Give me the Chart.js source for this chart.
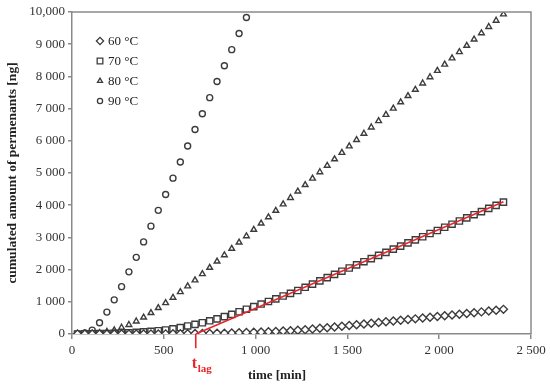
<!DOCTYPE html>
<html>
<head>
<meta charset="utf-8">
<script src="https://cdn.jsdelivr.net/npm/chart.js@4.4.1/dist/chart.umd.min.js"></script>
<style>
  html, body { margin: 0; padding: 0; background: #fff; }
  #wrap { width: 550px; height: 391px; }
</style>
</head>
<body>
<div id="wrap"><canvas id="chart" width="550" height="391"></canvas></div>
<script>
// ===== DATA =====
// sampling times [min], every 40 min
const times = [30, 70, 110, 150, 190, 230, 270, 310, 350, 390, 430, 470, 510, 550, 590, 630, 670, 710, 750, 790,
  830, 870, 910, 950, 990, 1030, 1070, 1110, 1150, 1190, 1230, 1270, 1310, 1350, 1390, 1430, 1470, 1510, 1550, 1590,
  1630, 1670, 1710, 1750, 1790, 1830, 1870, 1910, 1950, 1990, 2030, 2070, 2110, 2150, 2190, 2230, 2270, 2310, 2350];

const series60 = [0, 0, 0, 0, 0, 0, 0, 0, 0, 0, 2, 3, 4, 5, 7, 9, 12, 15, 18, 22,
  27, 32, 38, 44, 51, 59, 68, 78, 90, 103, 117, 135, 155, 176, 197, 219, 241, 263, 286, 309,
  332, 355, 378, 401, 424, 447, 470, 494, 517, 541, 564, 588, 611, 635, 662, 687, 712, 738, 765];

const series70 = [0, 3, 6, 10, 15, 22, 30, 40, 52, 66, 82, 100, 125, 160, 200, 250, 300, 350, 410, 470,
  540, 610, 690, 770, 850, 930, 1010, 1090, 1180, 1260, 1350, 1450, 1550, 1650, 1750, 1850, 1950, 2050, 2145, 2245,
  2340, 2440, 2535, 2635, 2730, 2830, 2925, 3020, 3120, 3215, 3315, 3410, 3510, 3605, 3705, 3800, 3900, 3995, 4095];

const series80 = [0, 5, 15, 35, 70, 120, 200, 285, 395, 515, 655, 810, 965, 1130, 1305, 1485, 1670, 1865, 2060, 2255,
  2450, 2650, 2845, 3040, 3240, 3435, 3630, 3830, 4030, 4230, 4430, 4630, 4830, 5030, 5230, 5430, 5630, 5830, 6030, 6225,
  6420, 6615, 6810, 7005, 7200, 7395, 7590, 7785, 7980, 8175, 8370, 8565, 8760, 8955, 9150, 9345, 9540, 9735, 9930];

// 90 °C run stops after 950 min
const series90 = [10, 30, 120, 350, 680, 1060, 1470, 1930, 2380, 2860, 3350, 3840, 4330, 4840, 5340, 5840, 6350, 6840, 7340, 7840,
  8330, 8830, 9330, 9830];

const seriesLabels = ['60 °C', '70 °C', '80 °C', '90 °C'];
const seriesStyles = ['rectRot', 'rect', 'triangle', 'circle'];
const seriesRadius = [4, 4.4, 3.3, 3];

// lag-time fit for 70 °C
const tLag = 674;
const fitEnd = [2350, 4110];
const tickBelow = -440;   // little red mark under the axis at t_lag

const xTicks = [0, 500, 1000, 1500, 2000, 2500];
const yMax = 10000;

// ===== HELPERS =====
function toPoints(values) {
  return values.map((v, i) => ({ x: times[i], y: v }));
}
function fmtNum(v) {
  if (v === 10000) return '10,000';
  if (v < 1000) return String(v);
  return Math.floor(v / 1000) + ' ' + String(v % 1000).padStart(3, '0');
}

const markColor = '#3c3c3c';
const red = '#e8262b';
const serif = "'Liberation Serif', 'DejaVu Serif', serif";

function markerSet(i, values) {
  return {
    label: seriesLabels[i],
    data: toPoints(values),
    showLine: false,
    order: 2,
    pointStyle: seriesStyles[i],
    pointRadius: seriesRadius[i],
    pointBorderWidth: 1.4,
    pointBorderColor: markColor,
    pointBackgroundColor: '#fff'
  };
}

// ===== FRAME / LEGEND / LABEL PLUGIN =====
const decorations = {
  id: 'decorations',
  afterDraw(chart) {
    const ctx = chart.ctx;
    const a = chart.chartArea;
    ctx.save();
    // top and right border
    ctx.strokeStyle = '#8a8a8a';
    ctx.lineWidth = 1.5;
    ctx.beginPath();
    ctx.moveTo(a.left, a.top);
    ctx.lineTo(a.right, a.top);
    ctx.lineTo(a.right, a.bottom);
    ctx.stroke();

    // legend
    ctx.font = '13px ' + serif;
    ctx.textBaseline = 'middle';
    seriesLabels.forEach((lab, i) => {
      const y = 41 + i * 20;
      ctx.strokeStyle = markColor;
      ctx.fillStyle = '#fff';
      ctx.lineWidth = 1.3;
      Chart.helpers.drawPoint(ctx, { pointStyle: seriesStyles[i], radius: seriesRadius[i] - 0.4, borderWidth: 1.3 }, 100, y);
      ctx.fillStyle = '#222';
      ctx.fillText(lab, 108, y + 1);
    });

    // x axis title, sits left of centre in the original
    ctx.font = 'bold 13px ' + serif;
    ctx.textAlign = 'center';
    ctx.fillStyle = '#222';
    ctx.fillText('time [min]', 277, 376);

    // t_lag label
    const px = chart.scales.x.getPixelForValue(tLag);
    ctx.fillStyle = red;
    ctx.font = 'bold 16px ' + serif;
    ctx.textBaseline = 'alphabetic';
    ctx.textAlign = 'left';
    ctx.fillText('t', px - 4, 368);
    ctx.font = 'bold 11px ' + serif;
    ctx.fillText('lag', px + 2, 372);
    ctx.restore();
  }
};

// ===== CHART =====
const datasets = [
  markerSet(0, series60),
  markerSet(1, series70),
  markerSet(2, series80),
  markerSet(3, series90),
  {
    label: 'fit',
    data: [{ x: tLag, y: 0 }, { x: fitEnd[0], y: fitEnd[1] }],
    showLine: true,
    order: 1,
    borderColor: red,
    borderWidth: 1.6,
    pointRadius: 0
  },
  {
    label: 'lag mark',
    data: [{ x: tLag, y: 0 }, { x: tLag, y: tickBelow }],
    showLine: true,
    order: 1,
    borderColor: red,
    borderWidth: 1.6,
    pointRadius: 0,
    clip: false
  }
];

new Chart(document.getElementById('chart'), {
  type: 'scatter',
  data: { datasets: datasets },
  options: {
    responsive: false,
    animation: false,
    layout: { padding: { top: 12, right: 19, left: 0, bottom: 0 } },
    plugins: { legend: { display: false }, tooltip: { enabled: false } },
    scales: {
      x: {
        type: 'linear',
        min: 0,
        max: 2500,
        afterBuildTicks: s => { s.ticks = xTicks.map(v => ({ value: v })); },
        afterFit: s => { s.height = 57; },
        ticks: {
          color: '#333',
          font: { family: serif, size: 13 },
          padding: 4,
          maxRotation: 0,
          callback: v => fmtNum(v)
        },
        grid: { drawOnChartArea: false, drawTicks: true, tickLength: 5, color: '#8a8a8a', lineWidth: 1.5 },
        border: { color: '#8a8a8a', width: 1.5 },
        title: { display: false }
      },
      y: {
        min: 0,
        max: yMax,
        ticks: {
          stepSize: 1000,
          color: '#333',
          font: { family: serif, size: 13 },
          padding: 3,
          callback: v => fmtNum(v)
        },
        afterFit: s => { s.width = 72; },
        grid: { drawOnChartArea: false, drawTicks: true, tickLength: 4, color: '#8a8a8a', lineWidth: 1.5 },
        border: { color: '#8a8a8a', width: 1.5 },
        title: {
          display: true,
          text: 'cumulated amount of permenants [ng]',
          color: '#222',
          font: { family: serif, size: 13.5, weight: 'bold' },
          padding: { bottom: 1 }
        }
      }
    }
  },
  plugins: [decorations]
});
</script>
</body>
</html>
